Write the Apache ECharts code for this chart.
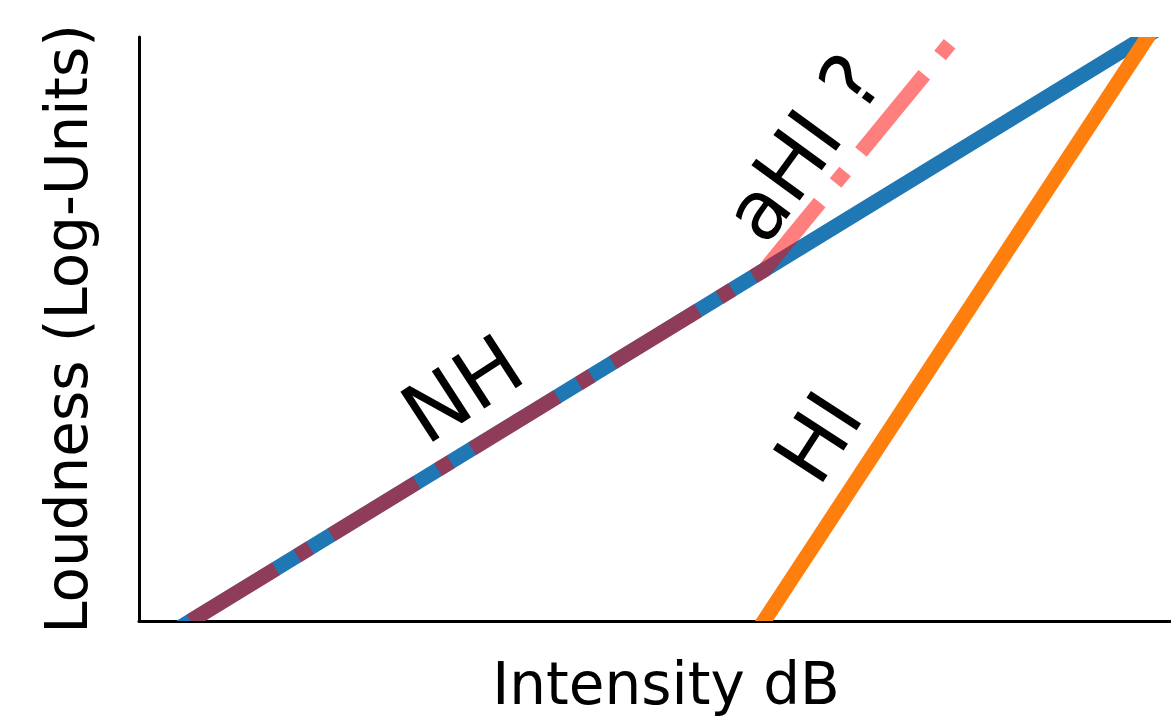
<!DOCTYPE html>
<html>
<head>
<meta charset="utf-8">
<script src="https://cdn.jsdelivr.net/npm/echarts@6/dist/echarts.min.js"></script>
<style>
html,body{margin:0;padding:0;background:#fff;}
#chart{width:1171px;height:717px;}
</style>
</head>
<body>
<div id="chart"></div>
<script>
// Curves (data units: intensity 0..100, loudness 0..100)
const nhX = [0, 102.1];
const nhY = [-5.4, 105];
const hiX = [58.7, 99.6];
const hiY = [-5, 105];
const ahiX = [5, 60.6, 81.4];
const ahiY = [0, 60.1, 105];
// Annotation labels
const labelText = ['NH', 'HI', 'aHI ?'];
const labelX = [31.7, 66.4, 64.9];
const labelY = [38.7, 30.8, 80.3];
const labelRot = [33, 57, 54];

const FONT = '"DejaVu Sans", sans-serif';

function lineSeries(xs, ys, stroke, dash, z) {
  return {
    type: 'custom',
    coordinateSystem: 'cartesian2d',
    clip: true,
    z: z,
    data: [[xs[0], ys[0]]],
    renderItem: function (params, api) {
      const pts = xs.map((x, i) => api.coord([x, ys[i]]));
      const style = { stroke: stroke, fill: null, lineWidth: 15, lineCap: 'butt', lineJoin: 'round' };
      if (dash) style.lineDash = dash;
      return { type: 'polyline', shape: { points: pts }, style: style };
    }
  };
}

const chart = echarts.init(document.getElementById('chart'), null, { renderer: 'canvas' });
chart.setOption({
  animation: false,
  backgroundColor: '#ffffff',
  grid: { left: 139, top: 37, right: 0, bottom: 96, containLabel: false, outerBoundsMode: 'none' },
  xAxis: {
    type: 'value', min: 0, max: 100,
    name: 'Intensity dB', nameLocation: 'middle', nameGap: 39,
    nameTextStyle: { fontFamily: FONT, fontSize: 58, color: '#000', padding: [0, 0, 0, 22] },
    axisLine: { show: true, onZero: false, lineStyle: { color: '#000', width: 3 } },
    axisTick: { show: false }, axisLabel: { show: false }, splitLine: { show: false }
  },
  yAxis: {
    type: 'value', min: 0, max: 100,
    name: 'Loudness (Log-Units)', nameLocation: 'middle', nameGap: 38,
    nameTextStyle: { fontFamily: FONT, fontSize: 58, color: '#000' },
    axisLine: { show: true, onZero: false, lineStyle: { color: '#000', width: 3 } },
    axisTick: { show: false }, axisLabel: { show: false }, splitLine: { show: false }
  },
  series: [
    lineSeries(nhX, nhY, '#1f77b4', null, 2),
    lineSeries(hiX, hiY, '#ff7f0e', null, 3),
    lineSeries(ahiX, ahiY, 'rgba(255,0,0,0.5)', [100, 25, 15, 25], 4),
    {
      type: 'scatter', symbolSize: 0, z: 5, silent: true,
      itemStyle: { opacity: 1 },
      data: labelText.map((t, i) => ({
        name: t, value: [labelX[i], labelY[i]],
        label: { rotate: labelRot[i] }
      })),
      label: {
        show: true, position: 'inside', formatter: '{b}',
        fontFamily: FONT, fontSize: 82, color: '#000', opacity: 1, textBorderWidth: 0
      }
    }
  ]
});
</script>
</body>
</html>
